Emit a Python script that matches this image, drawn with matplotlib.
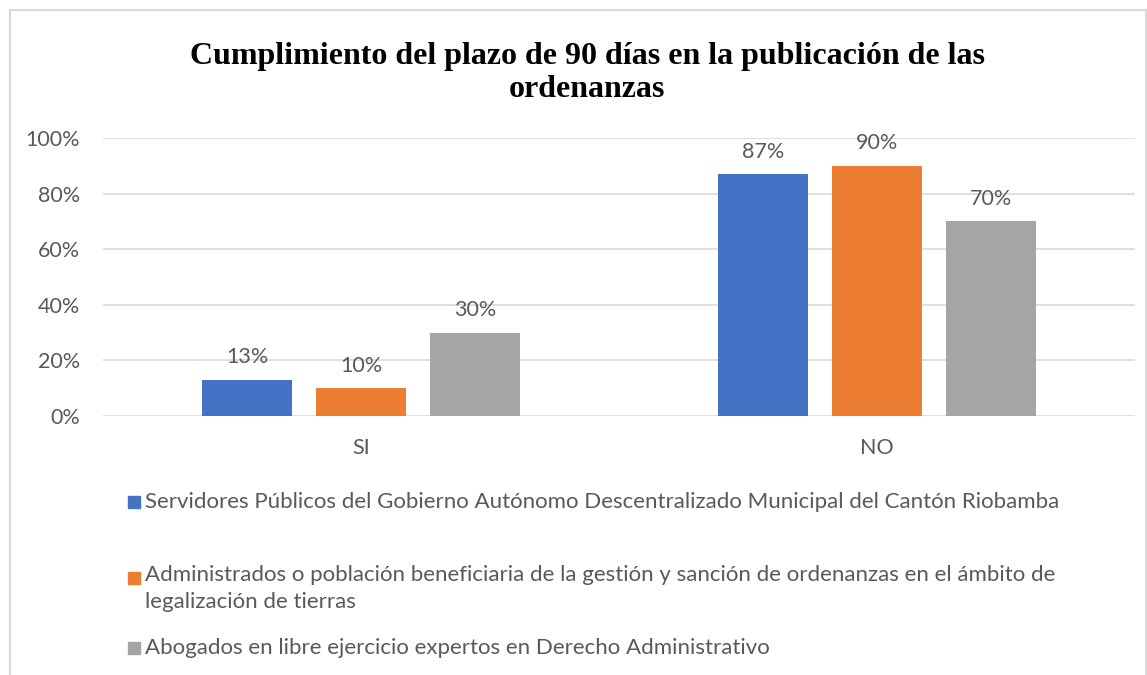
import matplotlib.pyplot as plt
from matplotlib.patches import Rectangle
import numpy as np

# Data
categories = ['SI', 'NO']
servidores = [0.13, 0.87]
administrados = [0.10, 0.90]
abogados = [0.30, 0.70]
series_names = [
    'Servidores Públicos del Gobierno Autónomo Descentralizado Municipal del Cantón Riobamba',
    'Administrados o población beneficiaria de la gestión y sanción de ordenanzas en el ámbito de\nlegalización de tierras',
    'Abogados en libre ejercicio expertos en Derecho Administrativo',
]
colors = ['#4472C4', '#ED7D31', '#A5A5A5']
yticks = [0, 0.2, 0.4, 0.6, 0.8, 1.0]

W, H = 1147, 675
fig = plt.figure(figsize=(W / 100, H / 100), dpi=100)
txt = '#595959'
font = 'Lato'
fs = 15.5

# chart border
fig.patches.append(Rectangle((10 / W, -0.05), 1136 / W, 1 - 10 / H + 0.05,
                             transform=fig.transFigure, fill=False,
                             edgecolor='#d9d9d9', linewidth=1.5))

ax = fig.add_axes([103 / W, 1 - 416 / H, 1032 / W, (416 - 138) / H])
x = np.arange(len(categories))
width = 0.174
step = 0.221
for i, vals in enumerate([servidores, administrados, abogados]):
    bars = ax.bar(x + (i - 1) * step, vals, width, color=colors[i], zorder=3)
    for b, v in zip(bars, vals):
        ax.annotate(f'{round(v * 100)}%', (b.get_x() + b.get_width() / 2, v),
                    xytext=(0, 9), textcoords='offset points',
                    ha='center', va='bottom', fontsize=fs, color=txt,
                    family=font)

ax.set_xlim(-0.5, 1.5)
ax.set_ylim(0, 1)
ax.set_yticks(yticks)
ax.set_yticklabels([f'{int(t * 100)}%' for t in yticks], fontsize=fs,
                   color=txt, family=font)
ax.set_xticks(x)
ax.set_xticklabels(categories, fontsize=fs, color=txt, family=font)
ax.tick_params(length=0)
ax.tick_params(axis='x', pad=16)
ax.tick_params(axis='y', pad=16.5)
ax.grid(axis='y', color='#d9d9d9', linewidth=1.2, zorder=0)
for s in ax.spines.values():
    s.set_visible(False)

fig.text(587 / W, 1 - 73 / H,
         'Cumplimiento del plazo de 90 días en la publicación de las\nordenanzas',
         ha='center', va='center', fontsize=23, fontweight='bold',
         family='Liberation Serif', linespacing=1.2)

# legend
leg_y = [502, 578, 648]
for name, c, yy in zip(series_names, colors, leg_y):
    fig.patches.append(Rectangle((128 / W, 1 - (yy + 6) / H), 12 / W, 12 / H,
                                 transform=fig.transFigure, color=c))
    if '\n' in name:
        fig.text(145 / W, 1 - (yy - 13) / H, name, ha='left', va='top',
                 fontsize=16, color=txt, family=font, linespacing=1.45)
    else:
        fig.text(145 / W, 1 - yy / H, name, ha='left', va='center',
                 fontsize=16, color=txt, family=font)

fig.savefig('out.png', dpi=100)
